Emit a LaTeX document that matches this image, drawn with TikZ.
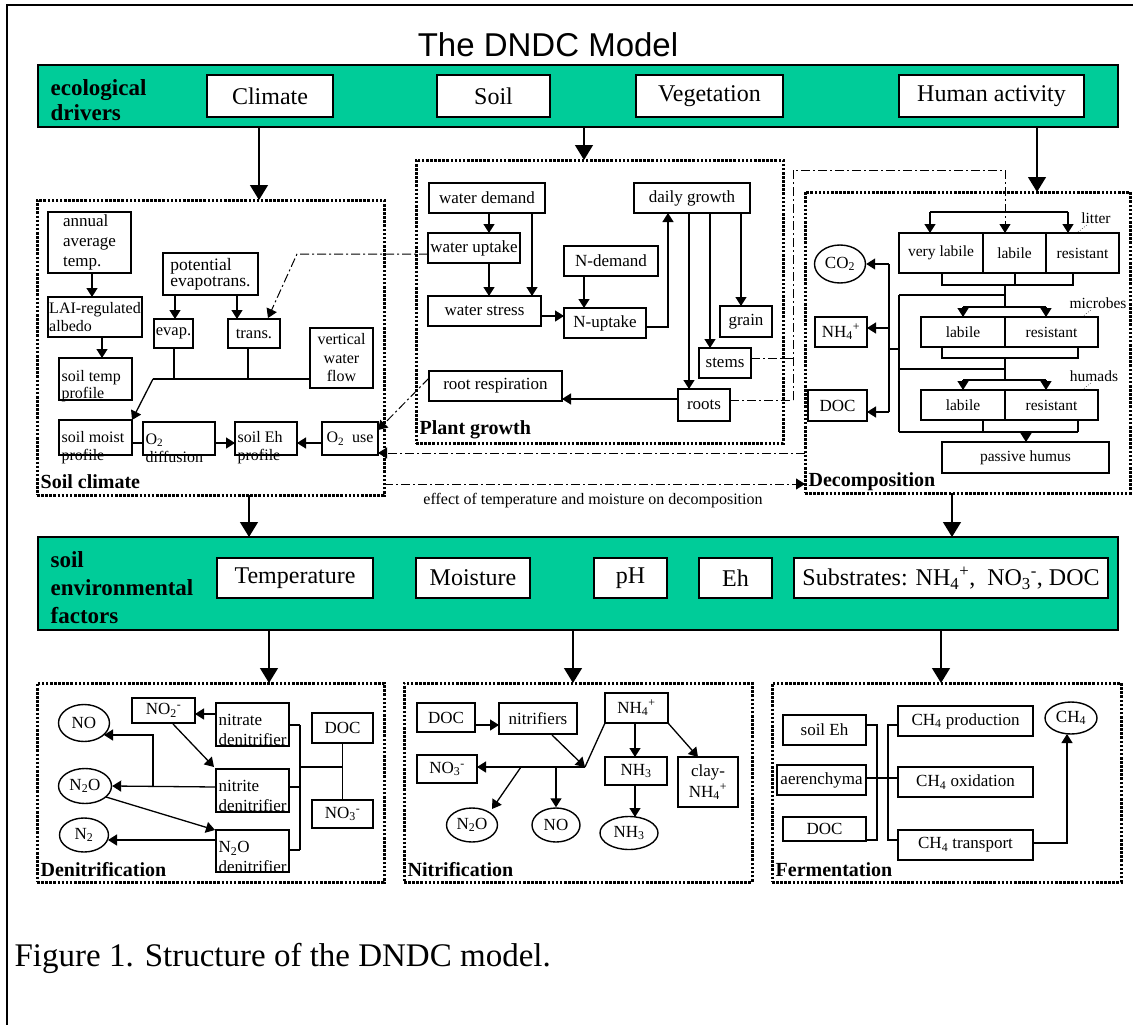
\documentclass[tikz,border=0pt]{standalone}
\usepackage{fontspec}
\setmainfont{Liberation Serif}
\newfontfamily\arialfont{Liberation Sans}
\usetikzlibrary{arrows.meta,fit,shapes.geometric}
\definecolor{ddgreen}{RGB}{0,204,153}
\newcommand\fs[2]{\fontsize{#1}{#2}\selectfont}
% box from corner (x1,y1) to (x2,y2): \bxn[opts]{x1}{y1}{x2}{y2}{name}{text}
\newcommand\bxn[7][]{\node[bx,#1, minimum width={#4-#2}, minimum height={#5-#3}] (#6) at ({(#2+#4)/2},{(#3+#5)/2}) {#7};}
\tikzset{
  bx/.style={draw, line width=1.4pt, fill=white, inner sep=0pt, align=center, font=\fs{17}{20}},
  sbx/.style={font=\fs{15.5}{18}},
  hbx/.style={font=\fs{24}{28}},
  txt/.style={inner sep=0pt, align=left, font=\fs{17}{20}},
  gbar/.style={draw, line width=1.5pt, fill=ddgreen, inner sep=0pt},
  dotbox/.style={draw, line width=3pt, dash pattern=on 2.6pt off 1.5pt, inner sep=0pt},
  ell/.style={draw, ellipse, line width=1.4pt, inner sep=0pt, fill=white, font=\fs{17}{20}},
  lab/.style={font=\bfseries\fs{20}{22}, anchor=west, inner sep=0pt},
  dd/.style={line width=1pt, dash pattern=on 9pt off 3pt on 2pt off 3pt},
  arr/.style={-{Triangle[length=9pt,width=11pt]}},
  big/.style={-{Triangle[length=15pt,width=18pt]}},
  lead/.style={line width=0.6pt, dotted}
}
\begin{document}
\begin{tikzpicture}[x=1pt,y=-1pt,line width=1.3pt]
\useasboundingbox (0,0) rectangle (1133,1025);
% frame
\draw[line width=2pt] (7,1025) -- (7,5) -- (1133,5);
% title
\node[font=\arialfont\fs{33}{38}] (title) at (548,45) {The DNDC Model};

% ---------- ecological drivers ----------
\node[gbar, fit={(38,65)(1118,127)}] (eco) {};
\node[font=\bfseries\fs{23}{25}, anchor=west, align=left, inner sep=0pt] (ecolab) at (50,100) {ecological\\drivers};
\bxn[hbx]{207}{75}{333}{117}{climate}{Climate}
\bxn[hbx]{437}{75}{550}{117}{soil}{Soil}
\bxn[hbx]{636}{75}{783}{117}{veg}{Vegetation}
\bxn[hbx]{899}{75}{1084}{117}{human}{Human activity}

% ---------- dotted group boxes ----------
\node[dotbox, fit={(37,200)(384,495)}] (scbox) {};
\node[dotbox, fit={(416,160)(783,443)}] (pgbox) {};
\node[dotbox, fit={(805,192)(1130,493)}] (dcbox) {};
\node[lab] (sclab) at (40,482) {Soil climate};
\node[lab] (pglab) at (419,430) {Plant growth};
\node[lab] (dclab) at (808,482) {Decomposition};

\draw[big] (259,127) -- (259,200);
\draw[big] (584,127) -- (584,160);
\draw[big] (1037,127) -- (1037,192);

% ---------- Soil climate ----------
\bxn[align=left]{48}{212}{131}{273}{annual}{annual\\average\\temp.}
\bxn[font=\fs{16}{18}, align=left]{48}{297}{142}{337}{lai}{LAI-regulated\\albedo}
\bxn{59}{358}{132}{400}{stemp}{}
\node[txt, anchor=west, font=\fs{16}{17}] (stempt) at (61,386) {soil temp\\profile};
\bxn[font=\fs{17.5}{16}, align=left]{163}{253}{258}{295}{pet}{potential\\evapotrans.}
\bxn[font=\fs{16.5}{19}]{154}{319}{193}{348}{evap}{evap.}
\bxn[font=\fs{16.5}{19}]{228}{319}{280}{348}{trans}{trans.}
\bxn[font=\fs{16}{18.5}]{310}{328}{373}{388}{vwf}{vertical\\water\\flow}
\bxn{59}{420}{132}{455}{smoist}{}
\node[txt, anchor=west, font=\fs{16}{18}] (smoistt) at (61,448) {soil moist\\profile};
\bxn{143}{422}{215}{455}{o2d}{}
\node[txt, anchor=west, font=\fs{16}{18}] (o2dt) at (145,448) {O\textsubscript{2}\\ diffusion};
\bxn{235}{422}{297}{455}{seh}{}
\node[txt, anchor=west, font=\fs{16}{18}] (seht) at (237,448) {soil Eh\\ profile};
\bxn[font=\fs{16}{18}]{322}{422}{378}{455}{o2u}{O\textsubscript{2}\ \ use}

\draw[arr] (92,273) -- (92,297);
\draw[arr] (102,337) -- (102,358);
\draw[arr] (175,295) -- (175,319);
\draw[arr] (237,295) -- (237,319);
\draw (174,348) -- (174,379);
\draw (248,348) -- (248,379);
\draw (153,379) -- (310,379);
\draw[arr] (153,379) -- (132,420);
\draw (132,443) -- (143,443);
\draw[arr] (215,443) -- (235,443);
\draw[arr] (322,443) -- (297,443);

% ---------- Plant growth ----------
\bxn{429}{183}{545}{213}{wd}{water demand}
\bxn{428}{233}{520}{263}{wu}{water uptake}
\bxn{428}{296}{541}{326}{ws}{water stress}
\bxn{564}{246}{658}{276}{nd}{N-demand}
\bxn{564}{308}{646}{338}{nu}{N-uptake}
\bxn{634}{183}{750}{213}{dg}{daily growth}
\bxn{720}{306}{772}{337}{grain}{grain}
\bxn{699}{348}{751}{378}{stems}{stems}
\bxn{678}{389}{730}{421}{roots}{roots}
\bxn{429}{371}{562}{401}{rr}{root respiration}

\draw[arr] (489,213) -- (489,233);
\draw[arr] (532,213) -- (532,296);
\draw[arr] (489,263) -- (489,296);
\draw[arr] (541,316) -- (564,316);
\draw[arr] (584,276) -- (584,308);
\draw[arr] (646,327) -- (668,327) -- (668,213);
\draw[arr] (689,213) -- (689,389);
\draw[arr] (710,213) -- (710,348);
\draw[arr] (741,213) -- (741,306);
\draw[arr] (678,399) -- (562,399);

% dash-dot links
\draw[dd, arr] (428,254) -- (297,254) -- (268,318);
\draw[dd, arr] (429,378) -- (378,430);
\draw[dd, arr] (805,453) -- (378,453);
\draw[dd, arr] (384,484) -- (805,484);
\node[font=\fs{16}{18}] (efflab) at (593,501) {effect of temperature and moisture on decomposition};
\draw[dd] (751,358) -- (793,358);
\draw[dd] (730,400) -- (793,400);
\draw[dd, arr] (793,400) -- (793,170) -- (1005,170) -- (1005,233);

% ---------- Decomposition ----------
\bxn[sbx]{899}{233}{983}{273}{vl}{very labile}
\bxn[sbx]{983}{233}{1046}{273}{ll}{labile}
\bxn[sbx]{1046}{233}{1119}{273}{lr}{resistant}
\bxn[sbx]{921}{317}{1005}{347}{ml}{labile}
\bxn[sbx]{1005}{317}{1098}{347}{mr}{resistant}
\bxn[sbx]{921}{390}{1005}{420}{hl}{labile}
\bxn[sbx]{1005}{390}{1098}{420}{hr}{resistant}
\bxn[sbx]{942}{442}{1109}{473}{ph}{passive humus}
\node[font=\fs{15.5}{18}, inner sep=0pt] (litlab) at (1096,218) {litter};
\node[font=\fs{15.5}{18}, inner sep=0pt] (miclab) at (1098,303) {microbes};
\node[font=\fs{15.5}{18}, inner sep=0pt] (humlab) at (1094,376) {humads};
\draw[lead] (1078,232) -- (1088,224);
\draw[lead] (1082,317) -- (1092,309);
\draw[lead] (1082,390) -- (1092,382);

\draw (930,212) -- (1068,212);
\draw[arr] (930,212) -- (930,233);
\draw[arr] (1068,212) -- (1068,233);
\draw (942,273) -- (942,285) -- (1073,285) -- (1073,273);
\draw (1015,273) -- (1015,285);
\draw (1005,285) -- (1005,307);
\draw (899,295) -- (1005,295);
\draw (963,307) -- (1046,307);
\draw[arr] (963,307) -- (963,317);
\draw[arr] (1046,307) -- (1046,317);
\draw (942,347) -- (942,358) -- (1078,358) -- (1078,347);
\draw (1005,358) -- (1005,380);
\draw (899,369) -- (1005,369);
\draw (963,380) -- (1046,380);
\draw[arr] (963,380) -- (963,390);
\draw[arr] (1046,380) -- (1046,390);
\draw (983,420) -- (983,432);
\draw (1078,420) -- (1078,432);
\draw (899,432) -- (1078,432);
\draw[arr] (1026,432) -- (1026,442);
\draw (899,295) -- (899,432);

\node[ell, minimum width=51pt, minimum height=38pt] (co2) at (840,264) {CO\textsubscript{2}};
\bxn{815}{317}{867}{347}{nh4d}{NH\textsubscript{4}\textsuperscript{+}}
\bxn{808}{390}{867}{421}{docd}{DOC}
\draw (889,264) -- (889,412);
\draw (899,349) -- (889,349);
\draw[arr] (889,264) -- (co2.east);
\draw[arr] (889,328) -- (867,328);
\draw[arr] (889,412) -- (867,412);

% ---------- soil environmental factors ----------
\draw[big] (249,495) -- (249,537);
\draw[big] (952,493) -- (952,537);
\node[gbar, fit={(38,537)(1118,630)}] (env) {};
\node[font=\bfseries\fs{23}{28}, anchor=west, align=left, inner sep=0pt] (envlab) at (50,588) {soil\\environmental\\factors};
\bxn[hbx]{217}{558}{373}{598}{temp}{Temperature}
\bxn[hbx]{416}{558}{530}{598}{moist}{Moisture}
\bxn[hbx]{594}{558}{667}{598}{ph2}{pH}
\bxn[hbx]{699}{558}{772}{598}{eh}{Eh}
\bxn[hbx]{794}{558}{1108}{598}{subs}{Substrates: NH\textsubscript{4}\textsuperscript{+},\ \ NO\textsubscript{3}\textsuperscript{-}, DOC}

\draw[big] (269,630) -- (269,683);
\draw[big] (573,630) -- (573,683);
\draw[big] (941,630) -- (941,683);

% ---------- Denitrification ----------
\node[dotbox, fit={(37,683)(384,882)}] (dnbox) {};
\node[lab] (dnlab) at (40,870) {Denitrification};
\node[ell, minimum width=51pt, minimum height=37pt] (no1) at (84,723) {NO};
\node[ell, minimum width=53pt, minimum height=35pt] (n2o1) at (85,786) {N\textsubscript{2}O};
\node[ell, minimum width=49pt, minimum height=34pt] (n21) at (84,835) {N\textsubscript{2}};
\bxn{132}{698}{195}{723}{no2}{NO\textsubscript{2}\textsuperscript{-}}
\bxn{216}{703}{289}{746}{nitrate}{}
\node[txt, anchor=west] (nitratet) at (218,730) {nitrate\\denitrifier};
\bxn{216}{769}{289}{812}{nitrite}{}
\node[txt, anchor=west] (nitritet) at (218,796) {nitrite\\denitrifier};
\bxn{216}{830}{289}{872}{n2oden}{}
\node[txt, anchor=west] (n2odent) at (218,857) {N\textsubscript{2}O\\denitrifier};
\bxn{312}{713}{373}{743}{doc1}{DOC}
\bxn{312}{800}{373}{828}{no31}{NO\textsubscript{3}\textsuperscript{-}}

\draw[arr] (216,714) -- (195,714);
\draw[arr] (173,724) -- (214,767);
\draw[arr] (216,787) -- (n2o1.east);
\draw[arr] (153,787) -- (153,735) -- (104,735);
\draw[arr] (106,797) -- (215,830);
\draw[arr] (216,840) -- (108,840);
\draw (289,725) -- (300,725);
\draw (289,787) -- (300,787);
\draw (289,850) -- (300,850);
\draw (300,725) -- (300,850);
\draw (300,767) -- (342,767);
\draw (doc1.south) -- (no31.north);

% ---------- Nitrification ----------
\node[dotbox, fit={(404,683)(752,882)}] (nibox) {};
\node[lab] (nilab) at (407,870) {Nitrification};
\bxn{417}{703}{475}{732}{doc2}{DOC}
\bxn{499}{703}{577}{734}{nitr}{nitrifiers}
\bxn{605}{693}{668}{723}{nh4n}{NH\textsubscript{4}\textsuperscript{+}}
\bxn{417}{755}{477}{783}{no3n}{NO\textsubscript{3}\textsuperscript{-}}
\bxn{605}{757}{667}{785}{nh3b}{NH\textsubscript{3}}
\bxn[font=\fs{17}{21}]{678}{757}{738}{807}{clay}{clay-\\NH\textsubscript{4}\textsuperscript{+}}
\node[ell, minimum width=51pt, minimum height=34pt] (n2on) at (472,825) {N\textsubscript{2}O};
\node[ell, minimum width=48pt, minimum height=34pt] (non) at (556,825) {NO};
\node[ell, minimum width=58pt, minimum height=33pt] (nh3e) at (629,833) {NH\textsubscript{3}};
\coordinate (nj) at (585,767);
\draw[arr] (475,725) -- (499,725);
\draw[arr] (552,735) -- (nj);
\draw (605,723) -- (nj);
\draw[arr] (nj) -- (477,767);
\draw[arr] (521,767) -- (492,809);
\draw[arr] (556,767) -- (non.north);
\draw[arr] (635,723) -- (635,757);
\draw[arr] (668,723) -- (698,757);
\draw[arr] (635,785) -- (635,817);

% ---------- Fermentation ----------
\node[dotbox, fit={(772,683)(1121,882)}] (febox) {};
\node[lab] (felab) at (775,870) {Fermentation};
\bxn{783}{715}{866}{745}{seh2}{soil Eh}
\bxn{777}{765}{866}{795}{aer}{aerenchyma}
\bxn{783}{817}{866}{841}{doc3}{DOC}
\bxn{898}{706}{1033}{736}{ch4p}{CH\textsubscript{4} production}
\bxn{898}{767}{1033}{797}{ch4o}{CH\textsubscript{4} oxidation}
\bxn{898}{830}{1033}{860}{ch4t}{CH\textsubscript{4} transport}
\node[ell, minimum width=52pt, minimum height=32pt] (ch4) at (1071,718) {CH\textsubscript{4}};
\draw (866,725) -- (877,725) -- (877,840) -- (866,840);
\draw (866,778) -- (898,778);
\draw (898,725) -- (888,725) -- (888,840) -- (898,840);
\draw[arr] (1033,843) -- (1067,843) -- (1067,734);

% caption
\node[font=\fs{33}{38}, anchor=west, inner sep=0pt] (cap) at (14,958) {Figure 1. Structure of the DNDC model.};
\end{tikzpicture}
\end{document}
